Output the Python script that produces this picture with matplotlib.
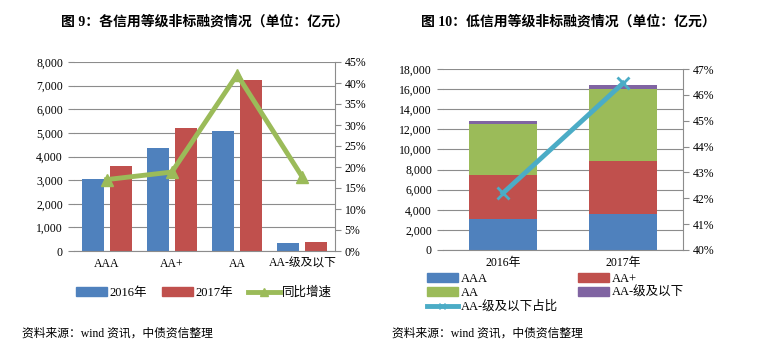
"""Non-standard financing by credit rating, 2016 vs 2017 (two panels)."""

import matplotlib

matplotlib.use("Agg")
import matplotlib.pyplot as plt
from matplotlib.patches import Patch
from matplotlib.lines import Line2D
from matplotlib.ticker import FuncFormatter, MultipleLocator

plt.rcParams["font.family"] = ["Liberation Serif", "Noto Sans CJK SC"]

# ---- data (亿元) ----
ratings = ["AAA", "AA+", "AA", "AA-级及以下"]
vol_2016 = [3054, 4375, 5085, 327]
vol_2017 = [3594, 5213, 7244, 384]
growth_pct = [17.0, 18.8, 42.0, 17.6]

years = ["2016年", "2017年"]
stack_names = ["AAA", "AA+", "AA", "AA-级及以下"]
stack_aaa = [3054, 3594]
stack_aap = [4375, 5213]
stack_aa = [5085, 7244]
stack_aam = [327, 384]
low_share_pct = [42.2, 46.45]

BLUE = "#4F81BD"
RED = "#C0504D"
GREEN = "#9BBB59"
PURPLE = "#8064A2"
CYAN = "#4BACC6"
GRID = "#8C8C8C"
TICK_FS = 8.5

fig = plt.figure(figsize=(7.65, 3.48), dpi=100)


def style_axes(ax, ax2):
    ax.spines["left"].set_visible(False)
    ax.spines["top"].set_visible(False)
    ax.spines["right"].set_visible(False)
    ax.spines["bottom"].set_color(GRID)
    for side in ("left", "top", "bottom"):
        ax2.spines[side].set_visible(False)
    ax2.spines["right"].set_color(GRID)
    ax.yaxis.grid(True, color=GRID, linewidth=0.8)
    ax.set_axisbelow(True)
    ax.tick_params(axis="y", length=4, color=GRID, labelsize=TICK_FS, pad=4)
    ax.tick_params(axis="x", length=0, labelsize=TICK_FS, pad=5)
    ax2.tick_params(axis="y", length=4, color=GRID, labelsize=TICK_FS, pad=3)


# ---- left panel: 图 9 ----
ax = fig.add_axes([74 / 765, 1 - 251 / 348, 261 / 765, 189 / 348])
ax2 = ax.twinx()
x = list(range(len(ratings)))
w = 0.34
ax.bar([i - 0.215 for i in x], vol_2016, width=w, color=BLUE, label="2016年")
ax.bar([i + 0.215 for i in x], vol_2017, width=w, color=RED, label="2017年")
ax2.plot(x, growth_pct, color=GREEN, lw=3.5, marker="^", ms=9, label="同比增速")
ax.set_xlim(-0.5, len(ratings) - 0.5)
ax.set_ylim(0, 8000)
ax.yaxis.set_major_locator(MultipleLocator(1000))
ax.yaxis.set_major_formatter(FuncFormatter(lambda v, _: f"{v:,.0f}"))
ax2.set_ylim(0, 45)
ax2.yaxis.set_major_locator(MultipleLocator(5))
ax2.yaxis.set_major_formatter(FuncFormatter(lambda v, _: f"{v:.0f}%"))
ax.set_xticks(x)
ax.set_xticklabels(ratings)
style_axes(ax, ax2)

fig.text(205 / 765, 1 - 22 / 348, "图 9：各信用等级非标融资情况（单位：亿元）",
         ha="center", va="center", fontsize=10, fontweight="bold")
handles_l = [
    Patch(color=BLUE, label="2016年"),
    Patch(color=RED, label="2017年"),
    Line2D([], [], color=GREEN, lw=3.5, marker="^", ms=6, label="同比增速"),
]
fig.legend(handles=handles_l, ncol=3, loc="center", frameon=False,
           bbox_to_anchor=(204 / 765, 1 - 293 / 348), fontsize=9,
           handlelength=2.5, handleheight=0.7, handletextpad=0.2,
           columnspacing=1.2)
fig.text(22 / 765, 1 - 334 / 348, "资料来源：wind 资讯，中债资信整理",
         ha="left", va="center", fontsize=8.5)

# ---- right panel: 图 10 ----
bx = fig.add_axes([443 / 765, 1 - 250 / 348, 240 / 765, 181 / 348])
bx2 = bx.twinx()
xr = list(range(len(years)))
bw = 0.57
bottom = [0, 0]
for vals, col, name in zip([stack_aaa, stack_aap, stack_aa, stack_aam],
                           [BLUE, RED, GREEN, PURPLE], stack_names):
    bx.bar(xr, vals, width=bw, bottom=bottom, color=col, label=name)
    bottom = [b + v for b, v in zip(bottom, vals)]
bx2.plot(xr, low_share_pct, color=CYAN, lw=3.5, marker="x", ms=9, mew=2)
bx.set_xlim(-0.5, 1.5)
bx.set_ylim(0, 18000)
bx.yaxis.set_major_locator(MultipleLocator(2000))
bx.yaxis.set_major_formatter(FuncFormatter(lambda v, _: f"{v:,.0f}"))
bx2.set_ylim(40, 47)
bx2.yaxis.set_major_locator(MultipleLocator(1))
bx2.yaxis.set_major_formatter(FuncFormatter(lambda v, _: f"{v:.0f}%"))
bx.set_xticks(xr)
bx.set_xticklabels(years)
style_axes(bx, bx2)

fig.text(568 / 765, 1 - 22 / 348, "图 10：低信用等级非标融资情况（单位：亿元）",
         ha="center", va="center", fontsize=10, fontweight="bold")
handles_r = [
    Patch(color=BLUE, label="AAA"),
    Patch(color=GREEN, label="AA"),
    Line2D([], [], color=CYAN, lw=3.5, marker="x", ms=5, label="AA-级及以下占比"),
    Patch(color=RED, label="AA+"),
    Patch(color=PURPLE, label="AA-级及以下"),
]
fig.legend(handles=handles_r, ncol=2, loc="upper left", frameon=False,
           bbox_to_anchor=(418 / 765, 1 - 264 / 348), fontsize=9,
           handlelength=2.5, handleheight=0.7, handletextpad=0.2,
           columnspacing=1.6, labelspacing=0.15, borderpad=0.2)
fig.text(392 / 765, 1 - 334 / 348, "资料来源：wind 资讯，中债资信整理",
         ha="left", va="center", fontsize=8.5)

fig.savefig("out.png", dpi=100)
